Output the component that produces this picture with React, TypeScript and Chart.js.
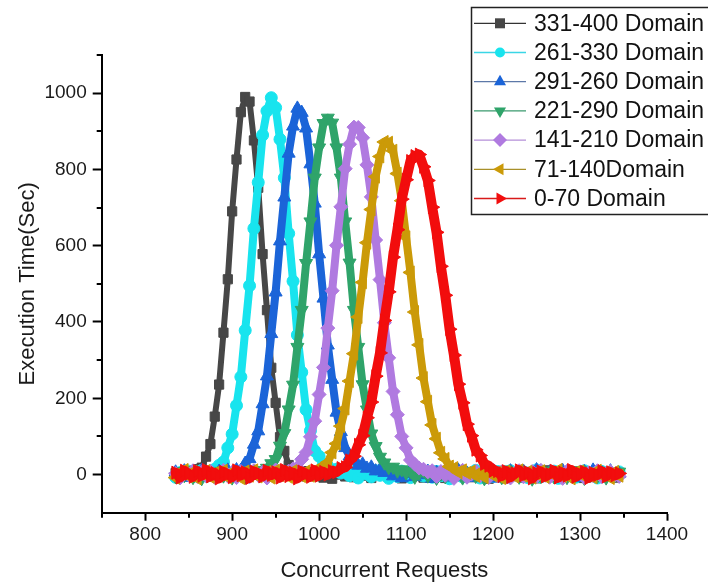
import React, { useEffect, useRef } from 'react';
import { Chart, registerables } from 'chart.js';

Chart.register(...registerables);

// ---------------- data ----------------
const xValues = [
  835, 840, 845, 850, 855, 860, 865, 870, 875, 880,
  885, 890, 895, 900, 905, 910, 915, 920, 925, 930,
  935, 940, 945, 950, 955, 960, 965, 970, 975, 980,
  985, 990, 995, 1000, 1005, 1010, 1015, 1020, 1025, 1030,
  1035, 1040, 1045, 1050, 1055, 1060, 1065, 1070, 1075, 1080,
  1085, 1090, 1095, 1100, 1105, 1110, 1115, 1120, 1125, 1130,
  1135, 1140, 1145, 1150, 1155, 1160, 1165, 1170, 1175, 1180,
  1185, 1190, 1195, 1200, 1205, 1210, 1215, 1220, 1225, 1230,
  1235, 1240, 1245, 1250, 1255, 1260, 1265, 1270, 1275, 1280,
  1285, 1290, 1295, 1300, 1305, 1310, 1315, 1320, 1325, 1330,
  1335, 1340, 1345,
];

const seriesNames = [
  '331-400 Domain',
  '261-330 Domain',
  '291-260 Domain',
  '221-290 Domain',
  '141-210 Domain',
  '71-140Domain',
  '0-70 Domain',
];

const domain331to400 = [
  4, -6, 8, -3, 6, 14, 18, 47, 80, 152,
  236, 372, 512, 690, 826, 950, 990, 978, 876, 752,
  578, 431, 280, 188, 98, 62, 25, 16, 3, 9,
  -5, 7, -4, 10, -8, 3, -11, 6, 0, -5,
  9, -7, 4, 12, -3, -9, 5, -1, 8, -6,
  11, 2, -10, 6, -4, 9, -2, -8, 4, 10,
  -6, 3, -9, 7, -1, 12, -5, 1, -7, 8,
  -3, 5, -11, 9, -2, -6, 10, -4, 3, 7,
  -8, 0, 6, -10, 4, 11, -5, 2, -7, 9,
  -3, 6, -1, -9, 8, -4, 3, 10, -6, 5,
  -2, -8, 4,
];

const domain261to330 = [
  -7, 5, -2, 9, -5, 3, 11, -4, 8, 14,
  24, 33, 70, 106, 181, 256, 378, 495, 645, 766,
  890, 953, 988, 962, 879, 778, 632, 507, 366, 268,
  170, 115, 62, 48, 27, 22, 11, 14, 4, 9,
  -3, 8, -9, 5, 1, -6, 10, -2, 7, -10,
  4, -5, 9, -1, -8, 6, 12, -4, 2, -7,
  8, -3, 5, -11, 3, 9, -6, 0, -2, 11,
  -9, 4, 6, -5, 8, -1, -7, 10, 2, -4,
  7, -8, 3, 12, -6, 1, -3, 9, -10, 5,
  -2, 6, -7, 4, 10, -5, 1, -9, 8, -3,
  5, -1, 7,
];

const domain291to260 = [
  6, -4, 9, -8, 3, -2, 10, -6, 5, -3,
  8, -5, 11, 4, 12, 10, 29, 41, 79, 114,
  185, 258, 369, 478, 612, 727, 842, 913, 960, 949,
  908, 814, 711, 578, 462, 339, 249, 163, 112, 70,
  48, 38, 24, 27, 16, 19, 9, 13, 5, 8,
  -4, 7, -9, 2, 10, -6, 4, -1, 8, -11,
  5, -3, 9, -7, 1, 11, -5, 3, -8, 6,
  -2, 10, -4, 7, -10, 2, -6, 9, 0, -3,
  8, -7, 4, 12, -5, -1, 6, -9, 3, 10,
  -4, 5, -8, 1, 7, -2, 11, -6, 4, -3,
  9, -5, 2,
];

const domain221to290 = [
  -5, 8, -2, 11, -7, 4, -10, 6, 1, -4,
  9, -3, 7, -8, 5, 10, -6, 3, 8, 6,
  11, 17, 29, 40, 75, 108, 170, 235, 334, 431,
  554, 663, 778, 857, 921, 935, 922, 857, 778, 663,
  555, 431, 334, 236, 170, 107, 74, 46, 31, 19,
  20, 10, 13, 5, 9, -6, 4, 10, -3, 7,
  -9, 2, -5, 11, -1, 6, -8, 3, 9, -4,
  0, -10, 5, 8, -2, -7, 12, -3, 4, -6,
  9, 1, -11, 7, -4, 3, 10, -5, -1, 8,
  -7, 5, -2, 11, -9, 2, 6, -4, 9, -8,
  3, -1, 7,
];

const domain141to210 = [
  3, -9, 6, -1, 10, -5, 7, -3, 9, -7,
  2, 11, -4, 5, -8, 8, 0, -6, 10, -2,
  6, -9, 4, 12, -3, 5, 9, 15, 19, 40,
  58, 99, 140, 210, 281, 384, 482, 601, 702, 802,
  866, 911, 910, 883, 812, 728, 615, 511, 398, 306,
  218, 157, 100, 70, 38, 27, 17, 14, 7, 10,
  -5, 8, -2, 6, -10, 3, 11, -7, 1, 9,
  -4, 5, -8, 12, -3, 7, -1, -9, 4, 10,
  -6, 2, 8, -5, 11, -2, -7, 6, 3, -10,
  9, -4, 1, 7, -8, 5, -3, 10, -6, 2,
  8, -1, -5,
];

const domain71to140 = [
  -8, 5, 12, -4, 7, -10, 3, 9, -6, 4,
  -2, 10, -7, 6, 1, -9, 8, -3, 11, -5,
  3, 7, -8, 10, -1, 5, -6, 9, 2, -4,
  8, -3, 10, 11, 24, 32, 58, 81, 127, 173,
  245, 317, 413, 504, 608, 695, 781, 834, 872, 870,
  849, 789, 718, 622, 530, 426, 340, 253, 191, 130,
  94, 57, 41, 21, 17, 6, 11, 4, 8, -3,
  6, -7, 10, -2, 4, -9, 8, 1, -5, 11,
  -3, 7, -8, 2, 9, -6, 5, -1, 12, -4,
  3, -10, 6, 8, -5, 1, -7, 10, -2, 4,
  -9, 7, -3,
];

const domain0to70 = [
  5, -8, 10, 2, -6, 9, -3, 12, -5, 4,
  -10, 7, 1, -7, 11, -2, 6, -9, 8, 3,
  -5, 10, -1, 6, -8, 12, -4, 5, -10, 8,
  2, -6, 11, -3, 7, 0, 9, 6, 17, 19,
  37, 48, 78, 102, 149, 190, 258, 319, 404, 479,
  570, 642, 722, 773, 822, 835, 839, 807, 771, 701,
  635, 546, 470, 381, 313, 237, 188, 132, 102, 65,
  50, 28, 23, 10, 9, -4, 9, -7, 3, 11,
  -2, 6, -10, 4, 8, -5, 1, 10, -8, 5,
  -3, 12, -6, 2, 7, -9, 4, -1, 9, -5,
  6, -2, 3,
];

const xTicks = [800, 900, 1000, 1100, 1200, 1300, 1400];
const xMinorTicks = [750, 850, 950, 1050, 1150, 1250, 1350];
const yTicks = [0, 200, 400, 600, 800, 1000];
const yMinorTicks = [100, 300, 500, 700, 900, 1100];

// ---------------- styles ----------------
const FONT = "'Liberation Sans', Arial, Helvetica, sans-serif";
const seriesValues = [
  domain331to400,
  domain261to330,
  domain291to260,
  domain221to290,
  domain141to210,
  domain71to140,
  domain0to70,
];
const colors = ['#474747', '#18e4ee', '#1b64d8', '#2fa46a', '#b07ae0', '#cb9a08', '#f20d0d'];
const legendLineColors = ['#333333', '#3ad6e6', '#5d78a8', '#3a9a6e', '#b58fd8', '#a8902a', '#d81a1a'];
const pointStyles = ['rect', 'circle', 'triangle', 'triangle', 'rectRot', 'triangle', 'triangle'];
const pointRotations = [0, 0, 0, 180, 0, -90, 90];
const pointRadii = [6.5, 6, 7.5, 7.5, 7, 7.5, 7.5];
const lineWidths = [6, 8, 8, 8, 8, 8, 10];

function drawMarker(
  ctx: CanvasRenderingContext2D,
  style: string,
  rotationDeg: number,
  x: number,
  y: number,
  r: number,
  color: string
) {
  ctx.save();
  ctx.translate(x, y);
  ctx.rotate((rotationDeg * Math.PI) / 180);
  ctx.fillStyle = color;
  ctx.beginPath();
  if (style === 'rect') {
    ctx.rect(-r, -r, 2 * r, 2 * r);
  } else if (style === 'circle') {
    ctx.arc(0, 0, r, 0, Math.PI * 2);
  } else if (style === 'triangle') {
    ctx.moveTo(0, -r);
    ctx.lineTo(r * 0.866, r * 0.5);
    ctx.lineTo(-r * 0.866, r * 0.5);
  } else {
    ctx.moveTo(0, -r);
    ctx.lineTo(r, 0);
    ctx.lineTo(0, r);
    ctx.lineTo(-r, 0);
  }
  ctx.closePath();
  ctx.fill();
  ctx.restore();
}

const decorPlugin = {
  id: 'originDecor',
  afterDraw(chart: any) {
    const ctx: CanvasRenderingContext2D = chart.ctx;
    const xs = chart.scales.x;
    const ys = chart.scales.y;
    const area = chart.chartArea;
    ctx.save();
    // minor ticks
    ctx.strokeStyle = '#000';
    ctx.lineWidth = 2;
    ctx.beginPath();
    xMinorTicks.forEach((v) => {
      const px = Math.round(xs.getPixelForValue(v));
      ctx.moveTo(px, area.bottom);
      ctx.lineTo(px, area.bottom + 5);
    });
    yMinorTicks.forEach((v) => {
      const py = Math.round(ys.getPixelForValue(v));
      ctx.moveTo(area.left - 5, py);
      ctx.lineTo(area.left, py);
    });
    ctx.stroke();

    // legend box
    ctx.fillStyle = '#ffffff';
    ctx.fillRect(471, 7, 260, 208);
    ctx.strokeStyle = '#222';
    ctx.lineWidth = 1.5;
    ctx.strokeRect(471.5, 7.5, 280, 207);
    seriesNames.forEach((name, i) => {
      const y = 23.3 + i * 29.2;
      ctx.strokeStyle = legendLineColors[i];
      ctx.lineWidth = 1.3;
      ctx.beginPath();
      ctx.moveTo(474, y);
      ctx.lineTo(526, y);
      ctx.stroke();
      const r = pointStyles[i] === 'rect' ? 5 : pointStyles[i] === 'circle' ? 5 : 7;
      drawMarker(ctx, pointStyles[i], pointRotations[i], 500, y, r, colors[i]);
      ctx.fillStyle = '#111';
      ctx.font = `23px ${FONT}`;
      ctx.textBaseline = 'middle';
      ctx.textAlign = 'left';
      ctx.fillText(name, 534, y + 1);
    });
    ctx.restore();
  },
};

export default function App() {
  const canvasRef = useRef<HTMLCanvasElement | null>(null);

  useEffect(() => {
    const canvas = canvasRef.current;
    if (!canvas) return;
    const datasets = seriesValues.map((vals, i) => ({
      label: seriesNames[i],
      data: xValues.map((x, j) => ({ x, y: vals[j] })),
      borderColor: colors[i],
      backgroundColor: colors[i],
      borderWidth: lineWidths[i],
      borderJoinStyle: 'round',
      borderCapStyle: 'round',
      pointStyle: pointStyles[i],
      pointRotation: pointRotations[i],
      pointRadius: pointRadii[i],
      pointBackgroundColor: colors[i],
      pointBorderColor: colors[i],
      pointBorderWidth: 1,
      tension: 0,
      fill: false,
      order: seriesValues.length - 1 - i,
    }));

    const chart = new Chart(canvas, {
      type: 'line',
      data: { datasets } as any,
      plugins: [decorPlugin as any],
      options: {
        responsive: false,
        animation: false,
        devicePixelRatio: 1,
        layout: { padding: { left: 0, right: 41, top: 55, bottom: 0 } },
        plugins: {
          legend: { display: false },
          tooltip: { enabled: false },
        },
        scales: {
          x: {
            type: 'linear',
            min: 750,
            max: 1400,
            afterBuildTicks: (s: any) => {
              s.ticks = xTicks.map((v) => ({ value: v }));
            },
            afterFit: (s: any) => {
              s.height = 75.3;
            },
            ticks: {
              font: { family: FONT, size: 19 },
              color: '#1a1a1a',
              padding: 3,
              maxRotation: 0,
              autoSkip: false,
              callback: (v: any) => String(v),
            },
            grid: {
              display: true,
              drawOnChartArea: false,
              drawTicks: true,
              tickLength: 8,
              tickWidth: 2,
              tickColor: '#000',
            },
            border: { display: true, color: '#000', width: 2 },
            title: {
              display: true,
              text: 'Concurrent Requests',
              font: { family: FONT, size: 22 },
              color: '#1a1a1a',
              padding: { top: 0, bottom: 4 },
            },
          },
          y: {
            type: 'linear',
            min: -100,
            max: 1100,
            afterBuildTicks: (s: any) => {
              s.ticks = yTicks.map((v) => ({ value: v }));
            },
            afterFit: (s: any) => {
              s.width = 101.7;
            },
            ticks: {
              font: { family: FONT, size: 19 },
              color: '#1a1a1a',
              padding: 6,
              autoSkip: false,
              callback: (v: any) => String(v),
            },
            grid: {
              display: true,
              drawOnChartArea: false,
              drawTicks: true,
              tickLength: 9,
              tickWidth: 2,
              tickColor: '#000',
            },
            border: { display: true, color: '#000', width: 2 },
            title: {
              display: true,
              text: 'Execution Time(Sec)',
              font: { family: FONT, size: 22 },
              color: '#1a1a1a',
              padding: { top: 15, bottom: 0 },
            },
          },
        },
      } as any,
    });
    return () => chart.destroy();
  }, []);

  return (
    <div
      style={{
        position: 'absolute',
        left: 0,
        top: 0,
        width: 708,
        height: 588,
        background: '#ffffff',
      }}
    >
      <canvas ref={canvasRef} width={708} height={588} style={{ display: 'block' }} />
    </div>
  );
}
